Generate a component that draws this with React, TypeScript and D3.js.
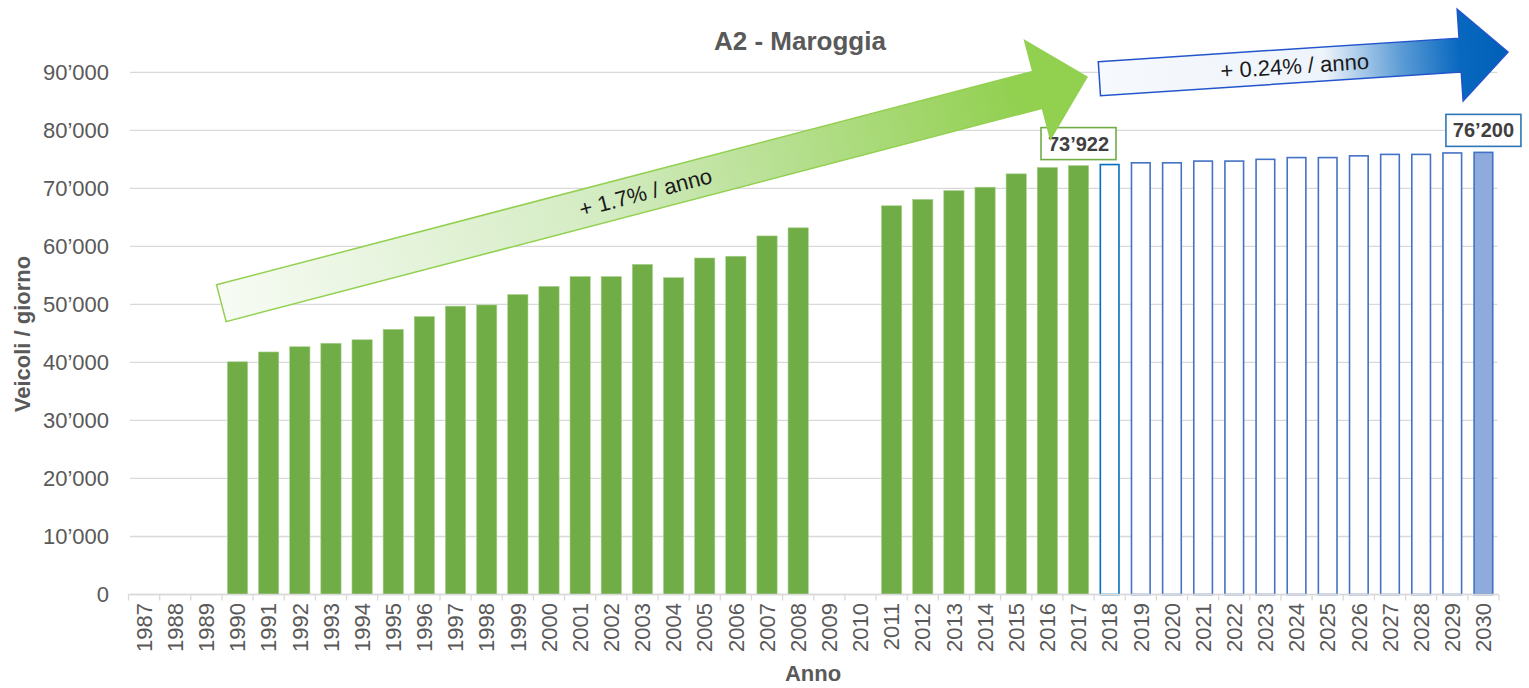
import React from 'react';
import * as d3 from 'd3';

// categories on the x axis
const years = [
  '1987', '1988', '1989', '1990', '1991', '1992', '1993', '1994', '1995', '1996', '1997',
  '1998', '1999', '2000', '2001', '2002', '2003', '2004', '2005', '2006', '2007', '2008',
  '2009', '2010', '2011', '2012', '2013', '2014', '2015', '2016', '2017', '2018', '2019',
  '2020', '2021', '2022', '2023', '2024', '2025', '2026', '2027', '2028', '2029', '2030',
];

// measured traffic (veicoli / giorno)
const observedYears = [
  '1990', '1991', '1992', '1993', '1994', '1995', '1996', '1997', '1998', '1999',
  '2000', '2001', '2002', '2003', '2004', '2005', '2006', '2007', '2008',
  '2011', '2012', '2013', '2014', '2015', '2016', '2017',
];
const observedValues = [
  40100, 41800, 42700, 43300, 43900, 45700, 47900, 49700, 49900, 51700,
  53100, 54800, 54800, 56900, 54600, 58000, 58300, 61800, 63200,
  67000, 68100, 69600, 70200, 72500, 73600, 73922,
];

// forecast
const forecastYears = [
  '2018', '2019', '2020', '2021', '2022', '2023', '2024', '2025', '2026', '2027', '2028', '2029', '2030',
];
const forecastValues = [
  74100, 74400, 74400, 74700, 74700, 75000, 75300, 75300, 75600, 75850, 75850, 76100, 76200,
];

const yTicks = [0, 10000, 20000, 30000, 40000, 50000, 60000, 70000, 80000, 90000];

const valueLabels = [
  { year: '2017', value: 73922, text: '73’922', stroke: '#70ad47' },
  { year: '2030', value: 76200, text: '76’200', stroke: '#2e75b6' },
];

// trend arrows, anchored in data space (year + fraction of a band, value)
const trendArrows = [
  {
    id: 'gGreen',
    text: '+ 1.7% / anno',
    from: { year: '1990', off: -0.02, value: 50200 },
    to: { year: '2017', off: 0.77, value: 89200 },
    body: 19, head: 51, headLen: 51, textAt: 0.49,
    stroke: '#92d050',
    stops: [
      ['0%', '#f7fbf4'],
      ['45%', '#d2ebc0'],
      ['92%', '#92d050'],
      ['100%', '#92d050'],
    ],
  },
  {
    id: 'gBlue',
    text: '+ 0.24% / anno',
    from: { year: '2018', off: 0.17, value: 88900 },
    to: { year: '2030', off: 1.29, value: 93500 },
    body: 17, head: 46, headLen: 48, textAt: 0.478,
    stroke: '#2255cc',
    stops: [
      ['0%', '#f6f9fd'],
      ['55%', '#eef4fb'],
      ['74%', '#5b9bd5'],
      ['88%', '#0868c0'],
      ['100%', '#0060b8'],
    ],
  },
];

const W = 1529;
const H = 688;
const font = 'Liberation Sans, Arial, Helvetica, sans-serif';
const grey = '#595959';

const fmt = (v: number) => d3.format(',')(v).replace(/,/g, '’');

export default function App() {
  const x = d3.scaleBand<string>().domain(years).range([128.5, 1499]).paddingInner(0.35).paddingOuter(0.175);
  const y = d3.scaleLinear().domain([0, 90000]).range([594.5, 72.3]);
  const step = x.step();
  const bw = x.bandwidth();
  const [x0, x1] = x.range();
  // left edge of a year's slot (tick position)
  const bandStart = (yr: string) => x0 + years.indexOf(yr) * step;

  const arrowGeom = (a: (typeof trendArrows)[number]) => {
    const p0 = [bandStart(a.from.year) + a.from.off * step, y(a.from.value)];
    const p1 = [bandStart(a.to.year) + a.to.off * step, y(a.to.value)];
    const L = Math.hypot(p1[0] - p0[0], p1[1] - p0[1]);
    const ang = (Math.atan2(p1[1] - p0[1], p1[0] - p0[0]) * 180) / Math.PI;
    return { p0, L, ang };
  };

  return (
    <div style={{ position: 'absolute', left: 0, top: 0 }}>
      <svg width={W} height={H} style={{ display: 'block', fontFamily: font }}>
        <rect width={W} height={H} fill="#ffffff" />
        <defs>
          {trendArrows.map((a) => {
            const { L } = arrowGeom(a);
            return (
              <linearGradient key={a.id} id={a.id} gradientUnits="userSpaceOnUse" x1={0} y1={0} x2={L} y2={0}>
                {a.stops.map(([o, c]) => (
                  <stop key={o} offset={o} stopColor={c} />
                ))}
              </linearGradient>
            );
          })}
        </defs>

        {/* gridlines */}
        <g>
          {yTicks.map((t) => (
            <line key={t} x1={x0 + 1.5} x2={x1 - 1.5} y1={y(t)} y2={y(t)} stroke="#d9d9d9" strokeWidth={1.3} />
          ))}
        </g>

        {/* y tick labels */}
        <g fill={grey} fontSize={22} textAnchor="end">
          {yTicks.map((t) => (
            <text key={t} x={109} y={y(t)} dy="0.35em">
              {fmt(t)}
            </text>
          ))}
        </g>

        {/* x axis ticks */}
        <g stroke="#d9d9d9" strokeWidth={1.3}>
          {years.concat(['end']).map((yr, i) => (
            <line key={yr} x1={x0 + i * step} x2={x0 + i * step} y1={y(0)} y2={y(0) + 6} />
          ))}
        </g>

        {/* observed bars */}
        <g fill="#70ad47" stroke="#a9d18e" strokeWidth={0.6}>
          {observedYears.map((yr, i) => (
            <rect key={yr} x={x(yr)} y={y(observedValues[i])} width={bw} height={y(0) - y(observedValues[i])} />
          ))}
        </g>

        {/* forecast bars */}
        <g>
          {forecastYears.map((yr, i) => {
            const last = i === forecastYears.length - 1;
            const first = i === 0;
            return (
              <rect
                key={yr}
                x={(x(yr) as number) + 0.8}
                y={y(forecastValues[i])}
                width={bw - 1.6}
                height={y(0) - y(forecastValues[i])}
                fill={last ? '#8faadc' : '#ffffff'}
                stroke={first ? '#0070c0' : '#4472c4'}
                strokeWidth={1.6}
              />
            );
          })}
        </g>

        {/* axis line */}
        <line x1={x0} x2={x1} y1={y(0)} y2={y(0)} stroke="#d9d9d9" strokeWidth={1.5} />

        {/* x tick labels */}
        <g fill={grey} fontSize={22} textAnchor="end">
          {years.map((yr) => {
            const cx = (x(yr) as number) + bw / 2;
            return (
              <text key={yr} transform={`translate(${cx},603) rotate(-90)`} dy="0.35em">
                {yr}
              </text>
            );
          })}
        </g>

        {/* value labels */}
        {valueLabels.map((l) => {
          const cx = (x(l.year) as number) + bw / 2;
          const by = y(l.value) - 6;
          return (
            <g key={l.year}>
              <rect x={cx - 37.5} y={by - 32} width={75} height={32} fill="#ffffff" stroke={l.stroke} strokeWidth={1.6} />
              <text x={cx} y={by - 9} textAnchor="middle" fontSize={20} fontWeight="bold" fill="#404040">
                {l.text}
              </text>
            </g>
          );
        })}

        {/* trend arrows */}
        {trendArrows.map((a) => {
          const { p0, L, ang } = arrowGeom(a);
          const hb = L - a.headLen;
          const pts: [number, number][] = [
            [0, -a.body], [hb, -a.body], [hb, -a.head], [L, 0], [hb, a.head], [hb, a.body], [0, a.body],
          ];
          return (
            <g key={a.id} transform={`translate(${p0[0]},${p0[1]}) rotate(${ang})`}>
              <polygon points={pts.map((p) => p.join(',')).join(' ')} fill={`url(#${a.id})`} stroke={a.stroke} strokeWidth={1.5} />
              <text x={L * a.textAt} y={0} dy="0.35em" textAnchor="middle" fontSize={22} fill="#1a1a1a">
                {a.text}
              </text>
            </g>
          );
        })}

        {/* title & axis titles */}
        <text x={800} y={50} textAnchor="middle" fontSize={26} fontWeight="bold" fill={grey}>
          A2 - Maroggia
        </text>
        <text transform="translate(30,334) rotate(-90)" textAnchor="middle" fontSize={22} fontWeight="bold" fill={grey}>
          Veicoli / giorno
        </text>
        <text x={813} y={681} textAnchor="middle" fontSize={22} fontWeight="bold" fill={grey}>
          Anno
        </text>
      </svg>
    </div>
  );
}
